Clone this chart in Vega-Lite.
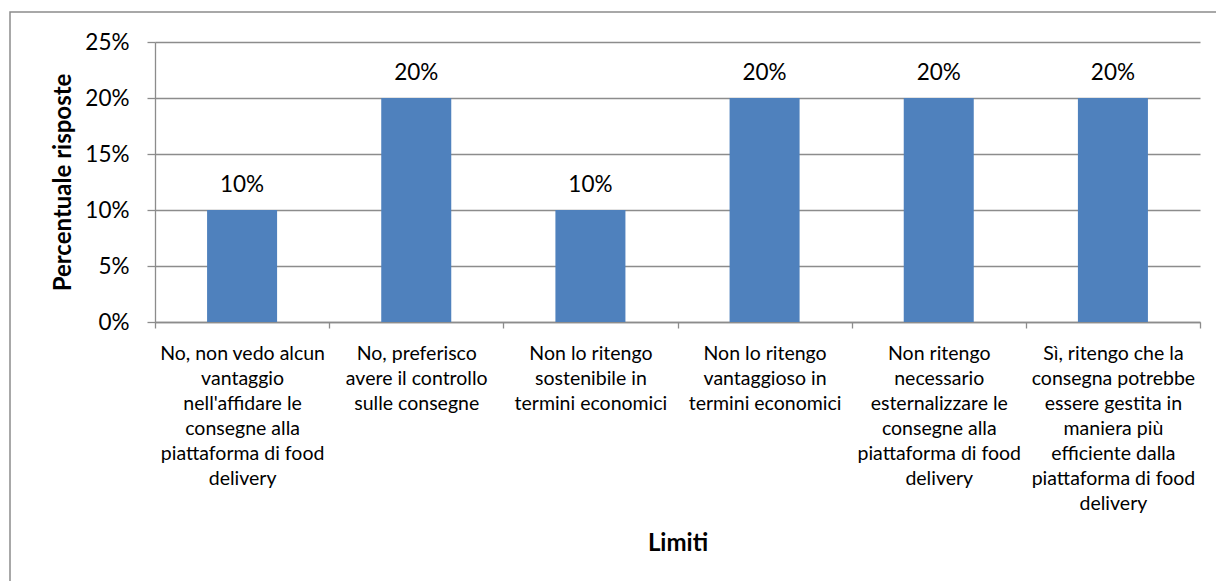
{
  "$schema": "https://vega.github.io/schema/vega-lite/v6.json",
  "width": 1207,
  "height": 570,
  "autosize": {"type": "none"},
  "padding": {"left": 10, "top": 12, "right": -1, "bottom": -1},
  "background": "white",
  "config": {
    "font": "Lato",
    "view": {"stroke": "#8c8c8c", "strokeWidth": 1.5},
    "axis": {
      "domainColor": "#8c8c8c",
      "domainWidth": 1.3,
      "tickColor": "#8c8c8c",
      "tickWidth": 1.3,
      "gridColor": "#8c8c8c",
      "gridWidth": 1.3,
      "labelColor": "#000000",
      "titleColor": "#000000",
      "labelFont": "Lato",
      "titleFont": "Lato"
    }
  },
  "data": {
    "values": [
      {"limite": "No, non vedo alcun\nvantaggio\nnell'affidare le\nconsegne alla\npiattaforma di food\ndelivery", "percentuale": 0.1},
      {"limite": "No, preferisco\navere il controllo\nsulle consegne", "percentuale": 0.2},
      {"limite": "Non lo ritengo\nsostenibile in\ntermini economici", "percentuale": 0.1},
      {"limite": "Non lo ritengo\nvantaggioso in\ntermini economici", "percentuale": 0.2},
      {"limite": "Non ritengo\nnecessario\nesternalizzare le\nconsegne alla\npiattaforma di food\ndelivery", "percentuale": 0.2},
      {"limite": "Sì, ritengo che la\nconsegna potrebbe\nessere gestita in\nmaniera più\nefficiente dalla\npiattaforma di food\ndelivery", "percentuale": 0.2}
    ]
  },
  "encoding": {
    "x": {
      "field": "limite",
      "type": "nominal",
      "sort": null,
      "scale": {"range": [145, 1190], "paddingInner": 0, "paddingOuter": 0},
      "axis": {
        "title": "Limiti",
        "offset": -260,
        "labelAngle": 0,
        "labelExpr": "split(datum.label, '\\n')",
        "labelFontSize": 19.5,
        "labelLineHeight": 25,
        "labelBaseline": "top",
        "labelPadding": 16,
        "labelLimit": 400,
        "labelOverlap": false,
        "tickBand": "extent",
        "tickSize": 6,
        "grid": false,
        "titleFontSize": 24,
        "titleFontWeight": "bold",
        "titlePadding": 19
      }
    },
    "y": {
      "field": "percentuale",
      "type": "quantitative",
      "scale": {"domain": [0, 0.25], "range": [310, 30], "nice": false},
      "axis": {
        "title": "Percentuale risposte",
        "offset": -145,
        "values": [0, 0.05, 0.1, 0.15, 0.2, 0.25],
        "format": ".0%",
        "labelFontSize": 22.5,
        "labelPadding": 18,
        "tickSize": 8,
        "grid": true,
        "titleFontSize": 24,
        "titleFontWeight": "bold",
        "titlePadding": 9
      }
    }
  },
  "layer": [
    {"mark": {"type": "bar", "color": "#4F81BD", "width": {"band": 0.402}}},
    {
      "mark": {"type": "text", "dy": -18, "baseline": "alphabetic", "fontSize": 22.5, "color": "#000000"},
      "encoding": {"text": {"field": "percentuale", "type": "quantitative", "format": ".0%"}}
    }
  ]
}
